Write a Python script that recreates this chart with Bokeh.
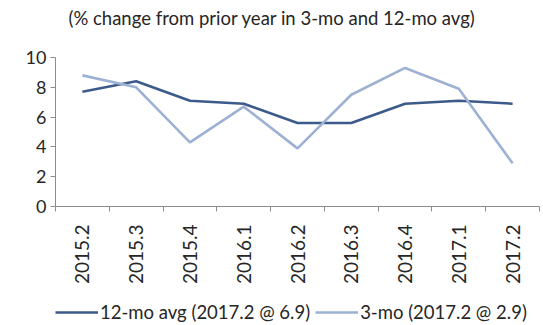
from bokeh.plotting import figure
from bokeh.layouts import column
from bokeh.models import FixedTicker, Legend, LegendItem, Range1d
from bokeh.core.properties import value
from bokeh.embed import file_html
from bokeh.resources import INLINE
import math

quarters = ["2015.2", "2015.3", "2015.4", "2016.1", "2016.2",
            "2016.3", "2016.4", "2017.1", "2017.2"]
avg_12mo = [7.7, 8.4, 7.1, 6.9, 5.6, 5.6, 6.9, 7.1, 6.9]
avg_3mo = [8.8, 8.0, 4.3, 6.7, 3.9, 7.5, 9.3, 7.9, 2.9]
y_ticks = [0, 2, 4, 6, 8, 10]
title_text = "(% change from prior year in 3-mo and 12-mo avg)"
series_labels = ["12-mo avg (2017.2 @ 6.9)", "3-mo (2017.2 @ 2.9)"]

FONT = "Lato"
DARK = "#3C5A8A"
LIGHT = "#9DB1D3"
AXIS = "#8C8C8C"
TEXT = "#262626"
W = 543
LEFT, RIGHT = 55, 4          # frame borders shared by all three strips


def strip(fig):
    fig.outline_line_color = None
    fig.background_fill_color = "white"
    fig.border_fill_color = "white"
    fig.grid.grid_line_color = None
    return fig


def band(height):
    # a plain strip whose x data units equal canvas pixels
    return strip(figure(width=W, height=height, output_backend="svg",
                        toolbar_location=None,
                        x_range=Range1d(LEFT, W - RIGHT), y_range=Range1d(0, height),
                        x_axis_type=None, y_axis_type=None,
                        min_border_left=LEFT, min_border_right=RIGHT,
                        min_border_top=0, min_border_bottom=0))


# --- title strip ---
head = band(35)
head.text(x=[68], y=[18], text=[title_text], text_font=value(FONT),
          text_font_size="18.5px", text_color=TEXT,
          text_align="left", text_baseline="middle")

# --- main chart ---
xs = list(range(1, len(quarters) + 1))
p = strip(figure(width=W, height=255, output_backend="svg", toolbar_location=None,
                 x_range=Range1d(0.5, len(quarters) + 0.5), y_range=Range1d(0, 10),
                 min_border_left=LEFT, min_border_right=RIGHT, min_border_top=22,
                 min_border_bottom=84))

p.line(xs, avg_12mo, line_color=DARK, line_width=2.6)
p.line(xs, avg_3mo, line_color=LIGHT, line_width=2.6)

p.yaxis.ticker = FixedTicker(ticks=y_ticks, minor_ticks=[])
p.yaxis.axis_line_color = AXIS
p.yaxis.major_tick_line_color = AXIS
p.yaxis.major_tick_in = 0
p.yaxis.major_tick_out = 5
p.yaxis.minor_tick_line_color = None
p.yaxis.major_label_text_font = FONT
p.yaxis.major_label_text_font_size = "18px"
p.yaxis.major_label_text_color = TEXT
p.yaxis.major_label_standoff = 4

# labels at category centres, tick marks at the category boundaries
p.xaxis.ticker = FixedTicker(ticks=xs,
                             minor_ticks=[x + 0.5 for x in range(0, len(quarters) + 1)])
p.xaxis.major_label_overrides = {x: q for x, q in zip(xs, quarters)}
p.xaxis.major_label_orientation = math.pi / 2
p.xaxis.axis_line_color = AXIS
p.xaxis.major_tick_line_color = None
p.xaxis.major_tick_out = 0
p.xaxis.major_tick_in = 0
p.xaxis.minor_tick_line_color = AXIS
p.xaxis.minor_tick_in = 0
p.xaxis.minor_tick_out = 5
p.xaxis.major_label_text_font = FONT
p.xaxis.major_label_text_font_size = "19px"
p.xaxis.major_label_text_color = TEXT
p.xaxis.major_label_standoff = 13

# --- legend strip ---
foot = band(35)
# legend keys: line renderers holding no drawable point
k12 = foot.line(x=[math.nan], y=[math.nan], line_color=DARK, line_width=2.6)
k3 = foot.line(x=[math.nan], y=[math.nan], line_color=LIGHT, line_width=2.6)
legend = Legend(items=[LegendItem(label=series_labels[0], renderers=[k12]),
                       LegendItem(label=series_labels[1], renderers=[k3])],
                orientation="horizontal", location=(0, 2),
                glyph_width=43, label_standoff=2, spacing=5, padding=0, margin=0,
                label_text_font=FONT, label_text_font_size="18.5px",
                label_text_color=TEXT, background_fill_alpha=0,
                border_line_color=None)
foot.add_layout(legend, "center")

layout = column(head, p, foot, spacing=0)
open("out.html", "w").write(file_html(layout, INLINE))
